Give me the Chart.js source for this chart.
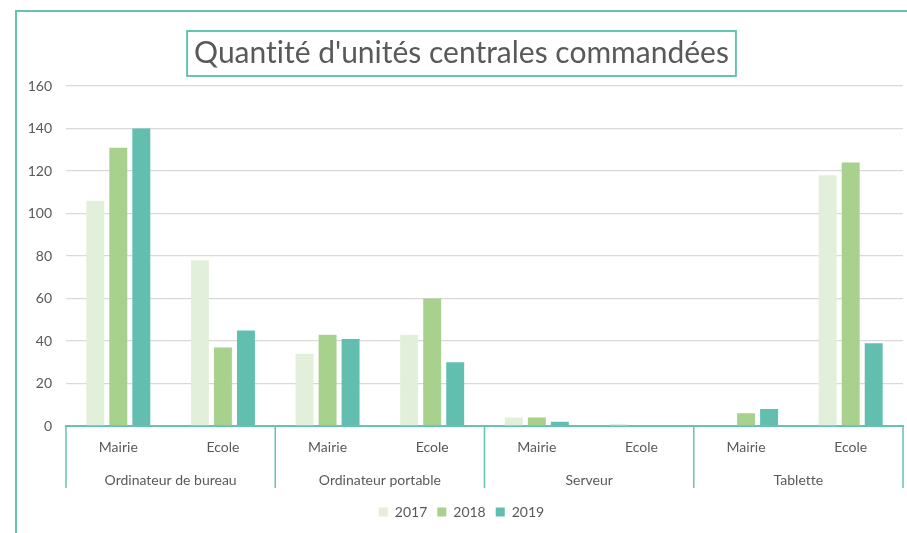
<!DOCTYPE html>
<html>
<head>
<meta charset="utf-8">
<script src="https://cdn.jsdelivr.net/npm/chart.js@4"></script>
<style>
  body { margin: 0; background: #fff; }
</style>
</head>
<body>
<canvas id="myChart" width="907" height="533"></canvas>
<script>
const groups = ["Ordinateur de bureau", "Ordinateur portable", "Serveur", "Tablette"];
const sites = ["Mairie", "Ecole", "Mairie", "Ecole", "Mairie", "Ecole", "Mairie", "Ecole"];
const years = ["2017", "2018", "2019"];
const values2017 = [106, 78, 34, 43, 4, 1, 0, 118];
const values2018 = [131, 37, 43, 60, 4, 0, 6, 124];
const values2019 = [140, 45, 41, 30, 2, 0, 8, 39];
const yTicks = { min: 0, max: 160, step: 20 };

const teal = "#66c2b2";
const textGrey = "#595959";
const font = "Lato";

// outer frame, title box and the group separators of the two-level axis
const decorations = {
  id: "decorations",
  beforeDraw(chart) {
    const ctx = chart.ctx;
    ctx.textRendering = "optimizeSpeed"; // no "ti" ligature in the title
    ctx.save();
    ctx.strokeStyle = teal;
    ctx.lineWidth = 2;
    ctx.strokeRect(16, 11, 2000, 2000);
    ctx.restore();
  },
  afterDraw(chart) {
    const ctx = chart.ctx;
    const area = chart.chartArea;
    const x = chart.scales.x;
    const x2 = chart.scales.x2;

    // box around the title
    const tb = chart.titleBlock;
    const opts = chart.options.plugins.title;
    ctx.save();
    ctx.font = opts.font.size + "px " + opts.font.family;
    const w = ctx.measureText(opts.text).width;
    const cx = (tb.left + tb.right) / 2;
    ctx.strokeStyle = teal;
    ctx.lineWidth = 2;
    ctx.strokeRect(cx - w / 2 - 7, 31, w + 14, 45);

    // separators between groups
    const bounds = [area.left];
    for (let i = 2; i < sites.length; i += 2) {
      bounds.push((x.getPixelForValue(i - 1) + x.getPixelForValue(i)) / 2);
    }
    bounds.push(area.right);
    ctx.lineWidth = 1.5;
    ctx.beginPath();
    bounds.forEach(b => {
      ctx.moveTo(b, area.bottom);
      ctx.lineTo(b, x2.bottom - 7);
    });
    ctx.stroke();
    ctx.restore();
  }
};

new Chart(document.getElementById("myChart").getContext("2d"), {
  type: "bar",
  data: {
    labels: sites,
    datasets: [
      { label: years[0], data: values2017, backgroundColor: "#e2efda" },
      { label: years[1], data: values2018, backgroundColor: "#a9d18e" },
      { label: years[2], data: values2019, backgroundColor: "#62bfb0" },
    ],
  },
  options: {
    responsive: false,
    animation: false,
    categoryPercentage: 0.66,
    barPercentage: 0.78,
    layout: { padding: { left: 20, right: 4, top: 0, bottom: 4 } },
    scales: {
      y: {
        min: yTicks.min,
        max: yTicks.max,
        ticks: { stepSize: yTicks.step, color: textGrey, padding: 14, font: { family: font, size: 14 } },
        grid: { color: "#d9d9d9", lineWidth: 1.3, drawTicks: false },
        border: { display: false },
        afterFit(scale) { scale.width = 46; },
      },
      x: {
        ticks: { color: textGrey, padding: 13, maxRotation: 0, autoSkip: false, font: { family: font, size: 14 } },
        grid: { display: false, drawTicks: false, tickLength: 0 },
        border: { color: teal, width: 2 },
        afterFit(scale) { scale.height = 31; },
      },
      x2: {
        type: "category",
        position: "bottom",
        labels: groups,
        offset: true,
        ticks: { color: textGrey, padding: 14.6, maxRotation: 0, autoSkip: false, font: { family: font, size: 14 } },
        grid: { display: false, drawTicks: false, tickLength: 0 },
        border: { display: false },
        afterFit(scale) { scale.height = 38; },
      },
    },
    plugins: {
      title: {
        display: true,
        text: "Quantité d'unités centrales commandées",
        color: textGrey,
        font: { family: font, size: 30, weight: "normal" },
        padding: { top: 35, bottom: 15 },
      },
      legend: {
        position: "bottom",
        labels: {
          boxWidth: 9,
          boxHeight: 9,
          padding: 10,
          color: textGrey,
          font: { family: font, size: 14 },
        },
      },
      tooltip: { enabled: false },
    },
  },
  plugins: [decorations],
});
</script>
</body>
</html>
